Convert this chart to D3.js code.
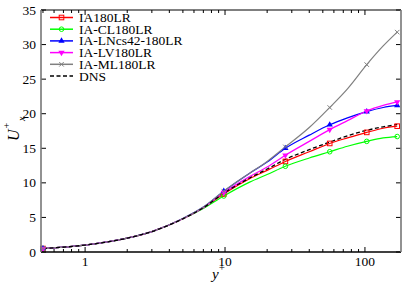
<!DOCTYPE html>
<html>
<head>
<meta charset="utf-8">
<script src="https://cdn.jsdelivr.net/npm/d3@7"></script>
<style>
  body { margin: 0; background: #fff; }
  svg text { font-family: "Liberation Serif", "DejaVu Serif", serif; }
</style>
</head>
<body>
<svg id="chart" width="415" height="286"></svg>
<script>
// wall distance grid (shared by all series)
const yPlus = [0.5, 1, 2, 3, 5, 7, 9.8, 15, 20, 27, 40, 56, 75, 103, 135, 170];
// indices where a marker is drawn
const markerIdx = [0, 6, 9, 11, 13, 15];

const seriesNames = ["IA180LR", "IA-CL180LR", "IA-LNcs42-180LR", "IA-LV180LR", "IA-ML180LR", "DNS"];
const ia180 = [0.5, 1.0, 2.0, 2.95, 4.8, 6.4, 8.4, 10.6, 11.8, 13.1, 14.5, 15.7, 16.5, 17.3, 17.9, 18.2];
const iaCL = [0.5, 1.0, 2.0, 2.95, 4.8, 6.3, 8.1, 10.1, 11.2, 12.4, 13.6, 14.5, 15.3, 16.0, 16.5, 16.7];
const iaLN = [0.5, 1.0, 2.0, 2.95, 4.85, 6.5, 8.8, 11.4, 13.0, 15.0, 16.9, 18.4, 19.4, 20.3, 20.9, 21.2];
const iaLV = [0.5, 1.0, 2.0, 2.95, 4.8, 6.4, 8.6, 10.9, 12.3, 14.0, 16.0, 17.7, 19.0, 20.4, 21.2, 21.7];
const iaML = [0.5, 1.0, 2.0, 2.95, 4.85, 6.5, 8.8, 11.4, 13.1, 15.2, 18.0, 20.9, 23.6, 27.1, 29.8, 31.8];
const dns = [0.5, 1.0, 2.0, 2.95, 4.8, 6.4, 8.5, 10.7, 12.0, 13.4, 14.8, 15.9, 16.8, 17.6, 18.1, 18.45];

const xTicks = [1, 10, 100];
const yTicks = [0, 5, 10, 15, 20, 25, 30, 35];

const series = [
  {name: seriesNames[0], vals: ia180, color: "#ff0000", marker: "square"},
  {name: seriesNames[1], vals: iaCL, color: "#00ff00", marker: "circle"},
  {name: seriesNames[2], vals: iaLN, color: "#0000ff", marker: "tri-up"},
  {name: seriesNames[3], vals: iaLV, color: "#ff00ff", marker: "tri-down"},
  {name: seriesNames[4], vals: iaML, color: "#808080", marker: "cross"},
  {name: seriesNames[5], vals: dns, color: "#000000", marker: null, dash: "4,2.5"}
];

const svg = d3.select("#chart");
const m = {left: 41, right: 401, top: 10, bottom: 252};

const x = d3.scaleLog().domain([0.484, 181]).range([m.left, m.right]);
const y = d3.scaleLinear().domain([0, 35]).range([m.bottom, m.top]);

// ticks (inward, all four sides)
const tk = svg.append("g").attr("stroke", "#000").attr("stroke-width", 1);
const minor = [];
[0.1, 1, 10, 100].forEach(function(dec) {
  for (let k = 2; k <= 9; k++) {
    const v = dec * k;
    if (v > 0.484 && v < 181) minor.push(v);
  }
});
xTicks.forEach(function(v) {
  tk.append("line").attr("x1", x(v)).attr("x2", x(v)).attr("y1", m.bottom).attr("y2", m.bottom - 5);
  tk.append("line").attr("x1", x(v)).attr("x2", x(v)).attr("y1", m.top).attr("y2", m.top + 5);
});
minor.forEach(function(v) {
  tk.append("line").attr("x1", x(v)).attr("x2", x(v)).attr("y1", m.bottom).attr("y2", m.bottom - 3);
  tk.append("line").attr("x1", x(v)).attr("x2", x(v)).attr("y1", m.top).attr("y2", m.top + 3);
});
yTicks.forEach(function(v) {
  tk.append("line").attr("x1", m.left).attr("x2", m.left + 5).attr("y1", y(v)).attr("y2", y(v));
  tk.append("line").attr("x1", m.right).attr("x2", m.right - 5).attr("y1", y(v)).attr("y2", y(v));
});

// tick labels
svg.append("g").selectAll("text").data(xTicks).enter().append("text")
  .attr("x", d => x(d)).attr("y", 266)
  .attr("text-anchor", "middle").attr("font-size", 13.5)
  .text(d => d);
svg.append("g").selectAll("text").data(yTicks).enter().append("text")
  .attr("x", m.left - 5).attr("y", d => y(d) + 4.5)
  .attr("text-anchor", "end").attr("font-size", 13.5)
  .text(d => d);

// curves
const line = d3.line()
  .x(d => x(d[0])).y(d => y(d[1]))
  .curve(d3.curveMonotoneX);

const plot = svg.append("g");
series.forEach(function(s) {
  const pts = yPlus.map((v, i) => [v, s.vals[i]]);
  plot.append("path")
    .attr("d", line(pts))
    .attr("fill", "none")
    .attr("stroke", s.color)
    .attr("stroke-width", s.dash ? 1.3 : 1.2)
    .attr("stroke-dasharray", s.dash || null);
});

function drawMarker(g, type, cx, cy, color) {
  const r = 2.3;
  if (type === "square") {
    g.append("rect").attr("x", cx - r).attr("y", cy - r).attr("width", 2 * r).attr("height", 2 * r)
      .attr("fill", "none").attr("stroke", color).attr("stroke-width", 1);
  } else if (type === "circle") {
    g.append("circle").attr("cx", cx).attr("cy", cy).attr("r", r)
      .attr("fill", "none").attr("stroke", color).attr("stroke-width", 1);
  } else if (type === "tri-up") {
    g.append("path").attr("d", d3.symbol().type(d3.symbolTriangle).size(17)())
      .attr("transform", "translate(" + cx + "," + cy + ")").attr("fill", color);
  } else if (type === "tri-down") {
    g.append("path").attr("d", d3.symbol().type(d3.symbolTriangle).size(17)())
      .attr("transform", "translate(" + cx + "," + cy + ") rotate(180)").attr("fill", color);
  } else if (type === "cross") {
    g.append("path").attr("d", d3.symbol().type(d3.symbolX).size(15)())
      .attr("transform", "translate(" + cx + "," + cy + ")")
      .attr("fill", "none").attr("stroke", color).attr("stroke-width", 1);
  }
}

series.forEach(function(s) {
  if (!s.marker) return;
  markerIdx.forEach(function(i) {
    drawMarker(plot, s.marker, x(yPlus[i]), y(s.vals[i]), s.color);
  });
});

// frame
svg.append("line").attr("x1", m.left).attr("x2", m.right).attr("y1", m.bottom).attr("y2", m.bottom)
  .attr("stroke", "#000").attr("stroke-width", 1.3);
svg.append("line").attr("x1", m.left).attr("x2", m.right).attr("y1", m.top).attr("y2", m.top)
  .attr("stroke", "#000").attr("stroke-width", 1);
svg.append("line").attr("x1", m.left).attr("x2", m.left).attr("y1", m.top).attr("y2", m.bottom)
  .attr("stroke", "#777").attr("stroke-width", 1.6);
svg.append("line").attr("x1", m.right).attr("x2", m.right).attr("y1", m.top).attr("y2", m.bottom)
  .attr("stroke", "#777").attr("stroke-width", 1.6);

// legend
const leg = svg.append("g");
series.forEach(function(s, i) {
  const ly = 17.5 + i * 11.7;
  leg.append("line").attr("x1", 50).attr("x2", 73).attr("y1", ly).attr("y2", ly)
    .attr("stroke", s.color).attr("stroke-width", s.dash ? 1.3 : 1.5)
    .attr("stroke-dasharray", s.dash || null);
  if (s.marker) drawMarker(leg, s.marker, 61.5, ly, s.color);
  leg.append("text").attr("x", 79).attr("y", ly + 4.5).attr("font-size", 13.5).text(s.name);
});

// axis titles
svg.append("text").attr("x", 212).attr("y", 279).attr("font-size", 15).attr("font-style", "italic")
  .text("y").append("tspan").attr("dy", -8).attr("font-size", 11).attr("font-style", "normal").text("+");
svg.append("text").attr("transform", "translate(19,141) rotate(-90)")
  .attr("font-size", 16).attr("font-style", "italic").text("U");
svg.append("text").attr("transform", "translate(25,121) rotate(-90)")
  .attr("font-size", 10).attr("font-style", "italic").text("x");
svg.append("text").attr("transform", "translate(10,128.5) rotate(-90)")
  .attr("font-size", 10).text("+");
</script>
</body>
</html>
